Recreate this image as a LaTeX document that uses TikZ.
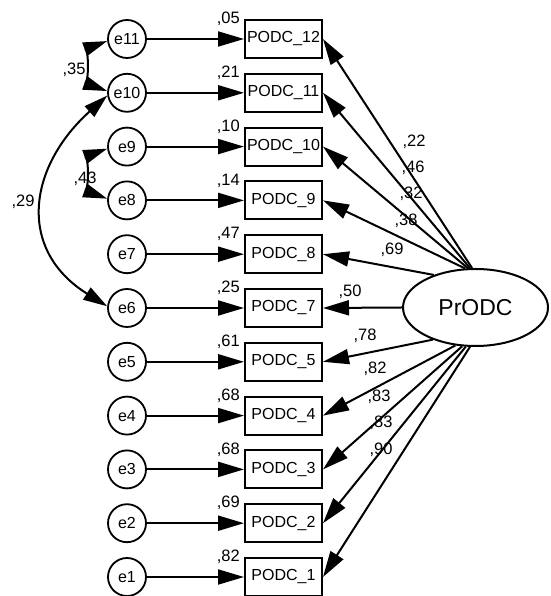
\documentclass[tikz,border=0pt]{standalone}
\usepackage{fontspec}
\setmainfont{Liberation Sans}
\usetikzlibrary{arrows.meta,shapes.geometric}
\begin{document}
\begin{tikzpicture}[x=1pt,y=1pt,
  obs/.style={draw, line width=2pt, minimum width=77pt, minimum height=38pt, inner sep=0pt, font=\fontsize{16}{18}\selectfont},
  err/.style={draw, circle, line width=1.8pt, minimum size=38pt, inner sep=0pt, font=\fontsize{16}{18}\selectfont},
  lat/.style={draw, ellipse, line width=2pt, minimum width=145pt, minimum height=77pt, inner sep=0pt, font=\fontsize{23}{26}\selectfont},
  num/.style={inner sep=0pt, font=\fontsize{16.5}{18}\selectfont},
  arr/.style={line width=2pt, -{Triangle[length=26pt,width=15pt]}},
  cov/.style={line width=2pt, {Triangle[length=24pt,width=14pt]}-{Triangle[length=24pt,width=14pt]}},
]
\useasboundingbox (0,0) rectangle (550,596);
\foreach \n/\e/\y/\r in {12/11/557/05, 11/10/503.2/21, 10/9/449.4/10, 9/8/395.6/14, 8/7/341.8/47, 7/6/288/25, 5/5/234.2/61, 4/4/180.4/68, 3/3/126.6/68, 2/2/72.8/69, 1/1/19/82} {
  \node[obs] (p\n) at (283.5,\y) {PODC\_\n};
  \node[err] (e\e) at (127,\y) {e\e};
  \draw[arr] (e\e) -- (p\n);
  \node[num, anchor=east] (r\n) at (240,\y+20) {,\r};
}
\node[lat] (P) at (475.5,288.5) {PrODC};
\foreach \n/\a in {12/95, 11/98, 10/101, 9/105, 8/142.6, 7/180, 5/217.4, 4/242, 3/251, 2/256, 1/262} {
  \draw[arr] (P.\a) -- (p\n.east);
}
\node[num] (l12) at (414,454) {,22};
\node[num] (l11) at (413,428) {,46};
\node[num] (l10) at (411,402) {,32};
\node[num] (l9) at (406,375) {,38};
\node[num] (l8) at (392,346) {,69};
\node[num] (l7) at (350,304) {,50};
\node[num] (l5) at (365,260) {,78};
\node[num] (l4) at (375,227) {,82};
\node[num] (l3) at (379,199) {,83};
\node[num] (l2) at (381,173) {,83};
\node[num] (l1) at (381,146) {,90};
\draw[cov] (e11.186) to[out=200,in=160] (e10.175);
\draw[cov] (e9.186) to[out=200,in=160] (e8.175);
\draw[cov] (e10.188) to[out=222,in=148,looseness=1.3] (e6.175);
\node[num] (c1) at (74,526) {,35};
\node[num] (c2) at (85,417) {,43};
\node[num] (c3) at (23,394) {,29};
\end{tikzpicture}
\end{document}
